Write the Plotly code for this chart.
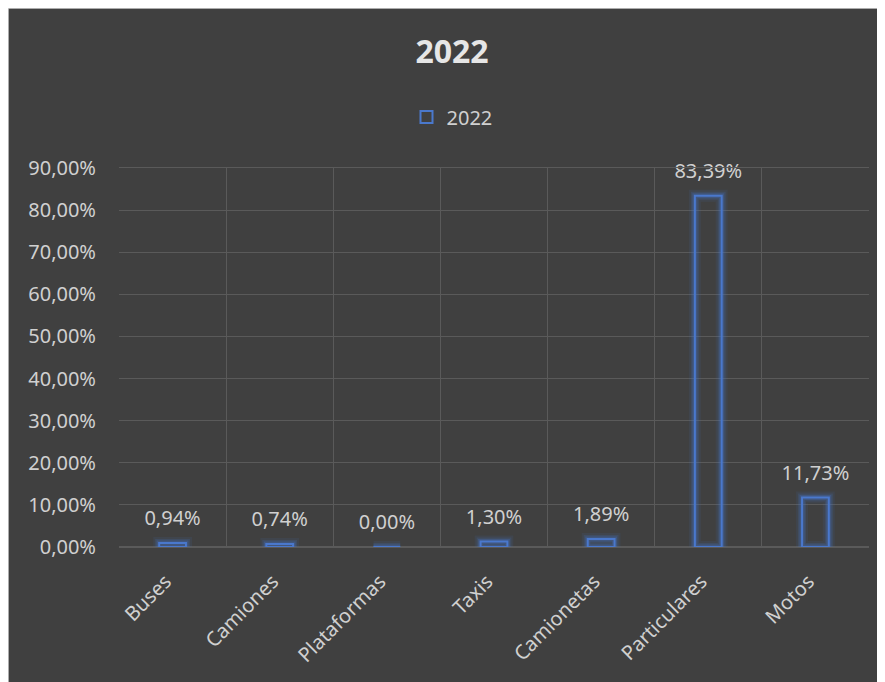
import plotly.graph_objects as go

categories = ["Buses", "Camiones", "Plataformas", "Taxis", "Camionetas", "Particulares", "Motos"]
values_2022 = [0.0094, 0.0074, 0.0000, 0.0130, 0.0189, 0.8339, 0.1173]
series_name = "2022"
y_ticks = [0, 0.1, 0.2, 0.3, 0.4, 0.5, 0.6, 0.7, 0.8, 0.9]

BG = "#404040"
GRID = "#5a5a5a"
TXT = "#d0d0d0"
BLUE = "#4a78cc"
FONT = "Noto Sans"

# The page body adds an 8px offset; the figure is sized so it fills the rest of the window.
OFF = 8
W, H = 885 - OFF, 682 - OFF
L, R, T, B = 119 - OFF, 16, 168 - OFF, 135
pw, ph = W - L - R, H - T - B


def px_x(p):  # screen px -> paper x
    return (p - OFF - L) / pw


def px_y(p):  # screen px -> paper y
    return (H - B - (p - OFF)) / ph


fig = go.Figure()
# soft glow around the outlines
for gw, ga in [(12, 0.10), (8, 0.18), (5, 0.30)]:
    fig.add_trace(go.Bar(
        x=categories, y=values_2022, width=0.25,
        marker=dict(color="rgba(0,0,0,0)", line=dict(color=f"rgba(68,114,196,{ga})", width=gw)),
        showlegend=False, hoverinfo="skip",
    ))
fig.add_trace(go.Bar(
    x=categories, y=values_2022, name=series_name, width=0.25,
    marker=dict(color="rgba(0,0,0,0)", line=dict(color=BLUE, width=2)),
    hoverinfo="x+y",
))
# data labels
fig.add_trace(go.Scatter(
    x=categories, y=values_2022, mode="markers+text",
    marker=dict(size=19, color="rgba(0,0,0,0)"),
    texttemplate="%{y:.2%}", textposition="top center",
    textfont=dict(color=TXT, size=20, family=FONT),
    showlegend=False, hoverinfo="skip", cliponaxis=False,
))

fig.update_layout(
    width=W, height=H,
    margin=dict(l=L, r=R, t=T, b=B, autoexpand=False),
    paper_bgcolor=BG, plot_bgcolor=BG,
    separators=",.",
    barmode="overlay",
    font=dict(family=FONT, color=TXT, size=20),
    title=dict(text="<b>2022</b>", x=(452 - OFF) / W, xanchor="center",
               y=1 - (52 - OFF) / H, yanchor="middle",
               font=dict(size=32, color="#e6e6e6", family=FONT)),
    legend=dict(orientation="h", x=px_x(452), xanchor="center",
                y=px_y(117), yanchor="middle",
                font=dict(size=20, color=TXT, family=FONT), bgcolor="rgba(0,0,0,0)"),
    xaxis=dict(
        automargin=False,
        showgrid=True, gridcolor=GRID, gridwidth=1, tickson="boundaries",
        ticks="", ticklabelstandoff=14, ticklabelshift=-7,
        tickangle=-45, tickfont=dict(size=20, color=TXT, family=FONT),
        showline=True, linecolor=GRID, mirror=True,
    ),
    yaxis=dict(
        automargin=False,
        range=[0, 0.9], tickvals=y_ticks, tickformat=".2%",
        showgrid=True, gridcolor=GRID, gridwidth=1, zeroline=True, zerolinecolor=GRID,
        ticks="", ticklabelstandoff=22,
        tickfont=dict(size=20, color=TXT, family=FONT),
    ),
    shapes=[
        dict(type="line", xref="paper", yref="paper", x0=px_x(8), x1=px_x(890),
             y0=px_y(8), y1=px_y(8), line=dict(color="#d0d0d0", width=1.5), layer="above"),
        dict(type="line", xref="paper", yref="paper", x0=px_x(8), x1=px_x(8),
             y0=px_y(690), y1=px_y(8), line=dict(color="#d0d0d0", width=1.5), layer="above"),
    ],
)

fig.write_html("out.html")
